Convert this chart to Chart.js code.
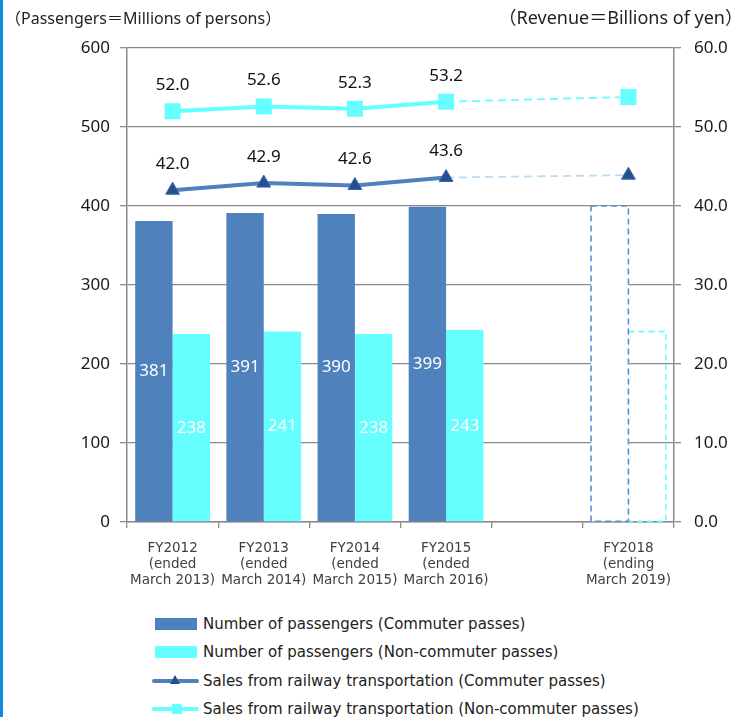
<!DOCTYPE html>
<html>
<head>
<meta charset="utf-8">
<title>Passengers and railway sales</title>
<script src="https://cdn.jsdelivr.net/npm/chart.js@4.4.0/dist/chart.umd.min.js"></script>
<style>
  body { margin: 0; background: #fff; }
  #wrap { position: relative; width: 747px; height: 717px; overflow: hidden; }
  #edge { position: absolute; left: 0; top: 0; width: 3px; height: 717px; background: #0b8bd9; }
  #chartBox { position: absolute; left: 0; top: 0; width: 747px; height: 600px; }
  .axis-title { position: absolute; font-family: "Noto Sans", "Noto Sans CJK JP", sans-serif; color: #222; white-space: nowrap; }
  #leftTitle { left: 5px; top: 5px; font-size: 16px; }
  #rightTitle { right: 4px; top: 3px; font-size: 18px; }
  #legend { position: absolute; left: 152px; top: 610px; font: 15px "DejaVu Sans", sans-serif; color: #222; }
  .legend-item { display: flex; align-items: center; height: 28.3px; white-space: nowrap; }
  .swatch { position: relative; width: 48px; height: 14px; margin-right: 3px; }
  .swatch .box { position: absolute; left: 3px; top: 1px; width: 42px; height: 12px; }
  .swatch .line { position: absolute; left: 0; top: 5px; width: 47px; height: 4px; border-radius: 2px; }
  .swatch .square { position: absolute; left: 20px; top: 2px; width: 10px; height: 10px; }
  .swatch .tri { position: absolute; left: 18px; top: 1px; width: 0; height: 0;
    border-left: 5px solid transparent; border-right: 5px solid transparent; border-bottom: 9px solid #24508f; }
</style>
</head>
<body>
<div id="wrap">
  <div id="edge"></div>
  <div id="chartBox"><canvas id="railChart"></canvas></div>
  <div class="axis-title" id="leftTitle">（Passengers＝Millions of persons）</div>
  <div class="axis-title" id="rightTitle">（Revenue＝Billions of yen）</div>
  <div id="legend"></div>
</div>
<script>
  // Fiscal years (slot 4 is the empty gap before the forecast year)
  const categories = [
    ['FY2012', '(ended', 'March 2013)'],
    ['FY2013', '(ended', 'March 2014)'],
    ['FY2014', '(ended', 'March 2015)'],
    ['FY2015', '(ended', 'March 2016)'],
    '',
    ['FY2018', '(ending', 'March 2019)']
  ];

  // Passengers, millions of persons (left axis)
  const commuterPassengers = [381, 391, 390, 399, null, 400];
  const nonCommuterPassengers = [238, 241, 238, 243, null, 241];

  // Sales from railway transportation, billions of yen (right axis)
  const commuterSales = [42.0, 42.9, 42.6, 43.6, null, 43.9];
  const nonCommuterSales = [52.0, 52.6, 52.3, 53.2, null, 53.8];

  // Last column is a plan, drawn dashed and without value labels
  const forecastIndex = 5;

  const seriesNames = [
    'Number of passengers (Commuter passes)',
    'Number of passengers (Non-commuter passes)',
    'Sales from railway transportation (Commuter passes)',
    'Sales from railway transportation (Non-commuter passes)'
  ];

  const blue = '#4f81bd';
  const cyan = '#66ffff';
  const navy = '#24508f';
  const grey = '#8a8a8a';

  // Dashed segment into the forecast year
  function dashedSegment(paleColor) {
    return {
      borderColor: ctx => ctx.p1DataIndex === forecastIndex ? paleColor : undefined,
      borderDash: ctx => ctx.p1DataIndex === forecastIndex ? [8, 5] : undefined,
      borderWidth: ctx => ctx.p1DataIndex === forecastIndex ? 1.8 : undefined
    };
  }

  // Dashed outline around the forecast bars
  const forecastOutline = {
    id: 'forecastOutline',
    afterDatasetDraw(chart, args) {
      const meta = args.meta;
      if (meta.type !== 'bar') return;
      const el = meta.data[forecastIndex];
      if (!el) return;
      const p = el.getProps(['x', 'y', 'base', 'width'], true);
      const ctx = chart.ctx;
      ctx.save();
      ctx.strokeStyle = chart.data.datasets[args.index].outlineColor;
      ctx.lineWidth = 1.6;
      ctx.setLineDash([6, 4]);
      ctx.strokeRect(p.x - p.width / 2, p.y, p.width, p.base - p.y);
      ctx.restore();
    }
  };

  // Value labels: above line points, centred in bars
  const valueLabels = {
    id: 'valueLabels',
    afterDatasetsDraw(chart) {
      const ctx = chart.ctx;
      ctx.save();
      ctx.font = '17px "Noto Sans", sans-serif';
      ctx.textAlign = 'center';
      ctx.textBaseline = 'middle';
      chart.data.datasets.forEach((ds, i) => {
        const meta = chart.getDatasetMeta(i);
        meta.data.forEach((el, j) => {
          if (j === forecastIndex || ds.data[j] == null) return;
          if (meta.type === 'line') {
            ctx.fillStyle = '#111';
            ctx.fillText(ds.data[j].toFixed(1), el.x, el.y - 26);
          } else {
            const p = el.getProps(['x', 'y', 'base'], true);
            ctx.fillStyle = '#fff';
            ctx.fillText(String(ds.data[j]), p.x, (p.y + p.base) / 2);
          }
        });
      });
      ctx.restore();
    }
  };

  function buildLegend() {
    const legend = document.getElementById('legend');
    const swatches = [
      `<div class="box" style="background:${blue}"></div>`,
      `<div class="box" style="background:${cyan}"></div>`,
      `<div class="line" style="background:${blue}"></div><div class="tri"></div>`,
      `<div class="line" style="background:${cyan}"></div><div class="square" style="background:${cyan}"></div>`
    ];
    legend.innerHTML = seriesNames.map((name, i) =>
      `<div class="legend-item"><div class="swatch">${swatches[i]}</div><span>${name}</span></div>`
    ).join('');
  }

  function createChart() {
    const ctx = document.getElementById('railChart').getContext('2d');
    new Chart(ctx, {
      data: {
        labels: categories,
        datasets: [
          {
            type: 'line',
            label: seriesNames[3],
            data: nonCommuterSales,
            yAxisID: 'y1',
            borderColor: cyan,
            borderWidth: 4,
            pointStyle: 'rect',
            pointRadius: 8.5,
            pointBackgroundColor: cyan,
            pointBorderColor: cyan,
            spanGaps: true,
            segment: dashedSegment(cyan)
          },
          {
            type: 'line',
            label: seriesNames[2],
            data: commuterSales,
            yAxisID: 'y1',
            borderColor: blue,
            borderWidth: 4,
            pointStyle: 'triangle',
            pointRadius: 8,
            pointBackgroundColor: navy,
            pointBorderColor: '#3a66a6',
            pointBorderWidth: 1,
            spanGaps: true,
            segment: dashedSegment('#bcdcf4')
          },
          {
            type: 'bar',
            label: seriesNames[0],
            data: commuterPassengers,
            yAxisID: 'y',
            backgroundColor: c => c.dataIndex === forecastIndex ? '#ffffff' : blue,
            outlineColor: '#5b8fd0',
            borderWidth: 0,
            categoryPercentage: 0.82,
            barPercentage: 1.0
          },
          {
            type: 'bar',
            label: seriesNames[1],
            data: nonCommuterPassengers,
            yAxisID: 'y',
            backgroundColor: c => c.dataIndex === forecastIndex ? 'rgba(0,0,0,0)' : cyan,
            outlineColor: cyan,
            borderWidth: 0,
            categoryPercentage: 0.82,
            barPercentage: 1.0
          }
        ]
      },
      options: {
        responsive: true,
        maintainAspectRatio: false,
        animation: false,
        layout: { padding: { top: 48, left: 0, right: 0, bottom: 0 } },
        plugins: {
          legend: { display: false },
          tooltip: { enabled: false }
        },
        scales: {
          x: {
            offset: true,
            grid: { offset: true, drawOnChartArea: false, color: grey, lineWidth: 1.3, tickLength: 6 },
            border: { color: grey, width: 1.5 },
            ticks: {
              color: '#404040',
              font: { family: 'DejaVu Sans', size: 13.5 },
              padding: 12,
              maxRotation: 0,
              autoSkip: false
            },
            afterFit: scale => { scale.height = 78; }
          },
          y: {
            position: 'left',
            min: 0,
            max: 600,
            ticks: {
              stepSize: 100,
              color: '#1a1a1a',
              font: { family: 'Noto Sans', size: 17 },
              padding: 10
            },
            grid: { color: grey, lineWidth: 1.3, tickLength: 7 },
            border: { color: grey, width: 1.5 },
            afterFit: scale => { scale.width = 127; }
          },
          y1: {
            position: 'right',
            min: 0,
            max: 60,
            ticks: {
              stepSize: 10,
              color: '#1a1a1a',
              font: { family: 'Noto Sans', size: 17 },
              padding: 13,
              callback: value => value.toFixed(1)
            },
            grid: { drawOnChartArea: false, color: grey, lineWidth: 1.3, tickLength: 7 },
            border: { color: grey, width: 1.5 },
            afterFit: scale => { scale.width = 73; }
          }
        }
      },
      plugins: [forecastOutline, valueLabels]
    });
  }

  document.addEventListener('DOMContentLoaded', () => {
    buildLegend();
    createChart();
  });
</script>
</body>
</html>
